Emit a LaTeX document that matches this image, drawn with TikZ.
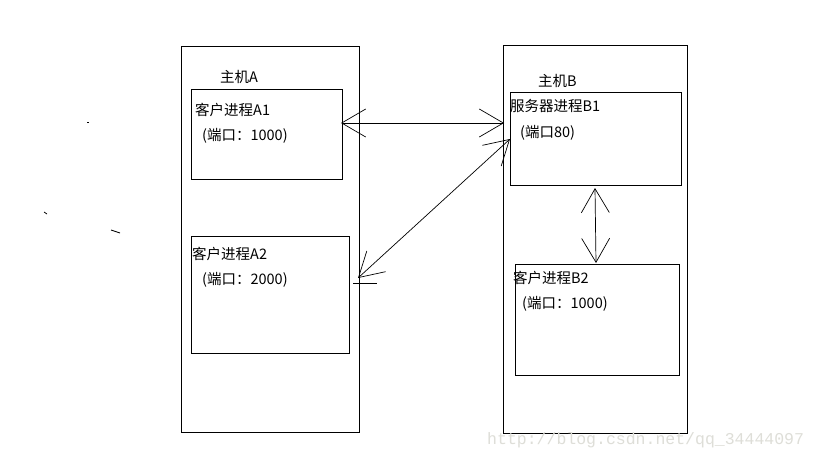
\documentclass[tikz,border=0pt]{standalone}
\usepackage{fontspec}
\newfontfamily\cjk{Noto Sans CJK SC}
\newfontfamily\wm{Liberation Mono}
\usetikzlibrary{arrows.meta}
\tikzset{
  box/.style={draw=black, line width=0.9pt, inner sep=0, anchor=north west},
  lbl/.style={inner sep=0, anchor=west, font=\cjk\fontsize{14.5}{16}\selectfont, text=black},
  port/.style={inner sep=0, anchor=west, font=\cjk\fontsize{14.5}{16}\selectfont, text=black},
  conn/.style={draw=black, line width=0.7pt, {Straight Barb[length=24pt,width=28pt,line width=0.7pt]}-{Straight Barb[length=24pt,width=28pt,line width=0.7pt]}},
  stray/.style={draw=black, line width=0.8pt}
}
\begin{document}
\begin{tikzpicture}[x=1pt,y=-1pt]
\useasboundingbox[fill=white] (0,0) rectangle (819,460);
% hosts
\node[box, minimum width=178pt, minimum height=386pt] (hostA) at (181,46) {};
\node[box, minimum width=184pt, minimum height=388pt] (hostB) at (503,45) {};
\node[lbl] (labA) at (220,77) {主机A};
\node[lbl] (labB) at (538,81) {主机B};
% processes
\node[box, minimum width=151pt, minimum height=90pt] (a1) at (191,89) {};
\node[box, minimum width=158pt, minimum height=117pt] (a2) at (191,236) {};
\node[box, minimum width=171pt, minimum height=93pt] (b1) at (510,92) {};
\node[box, minimum width=164pt, minimum height=111pt] (b2) at (515,264) {};
\node[lbl] (a1t) at (195,110) {客户进程A1};
\node[port] (a1p) at (202,136) {(端口：1000)};
\node[lbl] (a2t) at (192,254) {客户进程A2};
\node[port] (a2p) at (202,280) {(端口：2000)};
\node[lbl] (b1t) at (510,106) {服务器进程B1};
\node[port] (b1p) at (520,133) {(端口80)};
\node[lbl] (b2t) at (513,278) {客户进程B2};
\node[port] (b2p) at (522,304) {(端口：1000)};
% connector ends
\coordinate (c1) at (341,123);
\coordinate (c2) at (504,123);
\coordinate (c3) at (510,139);
\coordinate (c4) at (358,278);
\coordinate (c5) at (595,188);
\coordinate (c6) at (596,263);
\draw[conn] (c1) -- (c2);
\draw[conn] (c3) -- (c4);
\draw[conn] (c5) -- (c6);
\coordinate (h1) at (353,283);
\coordinate (h2) at (377,283);
\draw[stray, line width=0.7pt] (h1) -- (h2);
% stray marks
\coordinate (s1) at (87,122); \coordinate (s2) at (89,122);
\coordinate (s3) at (44,212); \coordinate (s4) at (47,214);
\coordinate (s5) at (111,230); \coordinate (s6) at (120,233);
\draw[stray] (s1) -- (s2);
\draw[stray] (s3) -- (s4);
\draw[stray] (s5) -- (s6);
% watermark
\node[inner sep=0, anchor=west, font=\wm\fontsize{16.5}{18}\selectfont, text={rgb,255:red,222;green,222;blue,216}] (wm) at (487,440) {http://blog.csdn.net/qq\_34444097};
\end{tikzpicture}
\end{document}
